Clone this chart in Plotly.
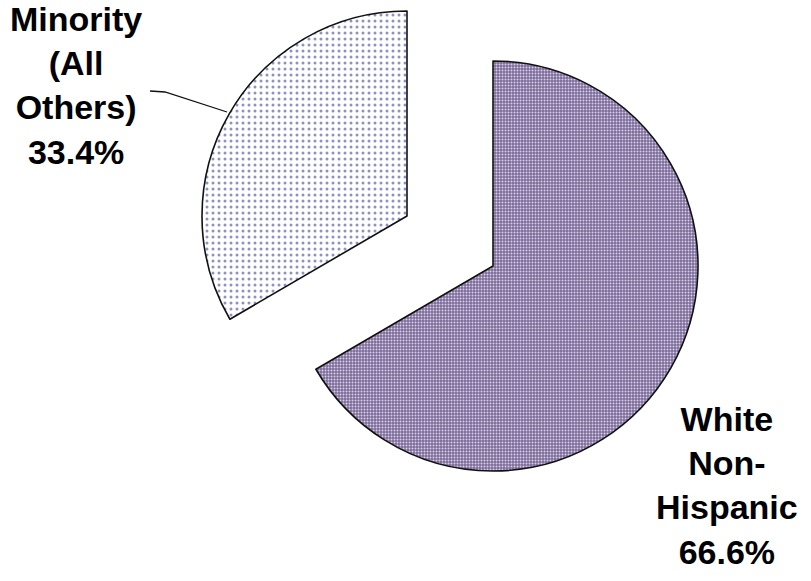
import plotly.graph_objects as go

labels = ["White Non-Hispanic", "Minority (All Others)"]
label_text = ["White<br>Non-<br>Hispanic", "Minority<br>(All<br>Others)"]
values = [66.6, 33.4]

W, H = 811, 581

def px_dom(cx, cy, r):
    return dict(x=[(cx - r) / W, (cx + r) / W], y=[(H - (cy + r)) / H, (H - (cy - r)) / H])

R = 205
fig = go.Figure()
# White Non-Hispanic slice (main pie)
fig.add_trace(go.Pie(
    labels=labels, values=values, sort=False, direction="clockwise", rotation=0,
    domain=px_dom(493, 266, R), textinfo="none", hoverinfo="label+percent",
    marker=dict(colors=["#7B6A98", "rgba(0,0,0,0)"],
                line=dict(color=["#111111", "rgba(0,0,0,0)"], width=[1.6, 0]),
                pattern=dict(shape=[".", ""], fgcolor=["#D9D1E8", "#ffffff"],
                             bgcolor=["#7B6A98", "rgba(0,0,0,0)"], size=3, solidity=0.35)),
    showlegend=False,
))
# Exploded Minority slice
fig.add_trace(go.Pie(
    labels=labels, values=values, sort=False, direction="clockwise", rotation=0,
    domain=px_dom(407, 216, R), textinfo="none", hoverinfo="label+percent",
    marker=dict(colors=["rgba(0,0,0,0)", "#FFFFFF"],
                line=dict(color=["rgba(0,0,0,0)", "#111111"], width=[0, 1.6]),
                pattern=dict(shape=["", "."], fgcolor=["#ffffff", "#8C93C4"],
                             bgcolor=["rgba(0,0,0,0)", "#FFFFFF"], size=6, solidity=0.2)),
    showlegend=False,
))

font = dict(family="Liberation Sans, Arial, sans-serif", size=34, color="#000000", weight="bold")
fig.add_annotation(x=76 / W, y=1 - 86 / H, xref="paper", yref="paper",
                   text=f"{label_text[1]}<br>{values[1]:.1f}%", showarrow=False,
                   font=font, align="center", xanchor="center", yanchor="middle")
fig.add_annotation(x=727 / W, y=1 - 485 / H, xref="paper", yref="paper",
                   text=f"{label_text[0]}<br>{values[0]:.1f}%", showarrow=False,
                   font=font, align="center", xanchor="center", yanchor="middle")

# leader line
pts = [(150, 91), (165, 92), (227, 112)]
path = "M " + " L ".join(f"{x / W},{1 - y / H}" for x, y in pts)
fig.add_shape(type="path", path=path, xref="paper", yref="paper",
              line=dict(color="#111111", width=1.3))

fig.update_layout(width=W, height=H, margin=dict(l=0, r=0, t=0, b=0),
                  paper_bgcolor="white", plot_bgcolor="white")
fig.write_html("out.html", config={"displayModeBar": False},
               post_script="document.body.style.margin='0';")
